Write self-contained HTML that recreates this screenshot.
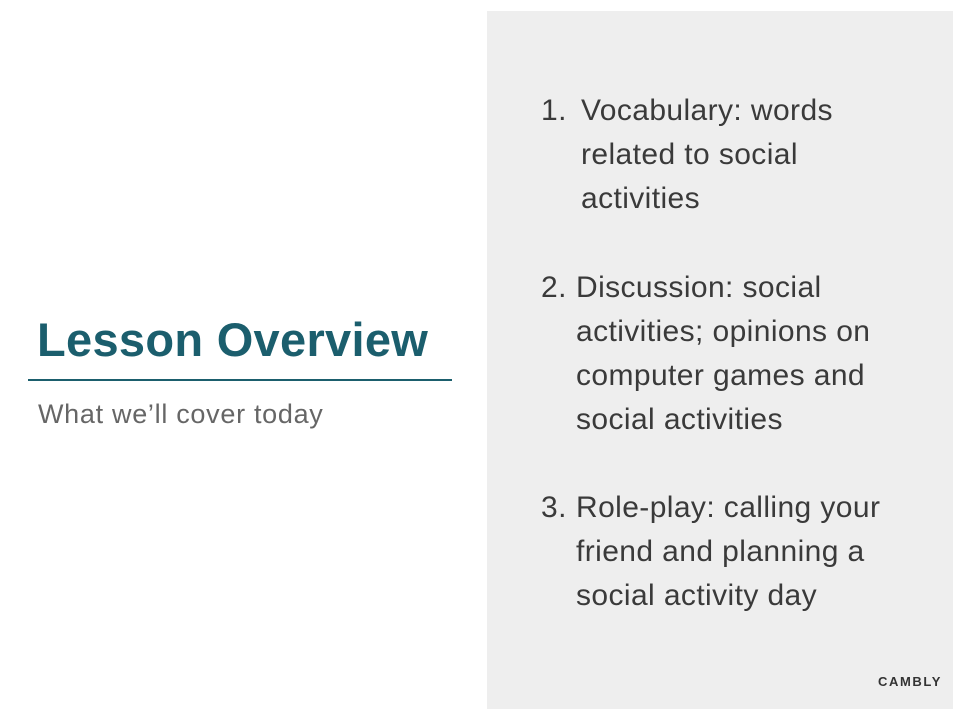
<!DOCTYPE html>
<html><head><meta charset="utf-8"><style>
body{margin:0;width:960px;height:720px;background:#fff;position:relative;overflow:hidden;font-family:"Liberation Sans",sans-serif}
.panel{position:absolute;left:487px;top:11px;width:466px;height:698px;background:#eeeeee}
.t{position:absolute;font-size:30px;line-height:44px;color:#3a3a3a;white-space:nowrap;letter-spacing:0.4px}
</style></head><body>
<div class="panel"></div>
<div style="position:absolute;left:37px;top:312px;font-size:47px;font-weight:bold;color:#1b5e6d;line-height:56px;letter-spacing:0.3px">Lesson Overview</div>
<div style="position:absolute;left:28px;top:379px;width:424px;height:2px;background:#1b5e6d"></div>
<div style="position:absolute;left:38px;top:397px;font-size:27px;color:#666;line-height:34px;letter-spacing:0.7px">What we’ll cover today</div>

<div>
<div class="t" style="left:541px;top:89px">1.</div>
<div class="t" style="left:581px;top:89px">Vocabulary: words</div>
<div class="t" style="left:581px;top:133px">related to social</div>
<div class="t" style="left:581px;top:177px">activities</div>
</div>
<div>
<div class="t" style="left:541px;top:266px">2.</div>
<div class="t" style="left:576px;top:266px">Discussion: social</div>
<div class="t" style="left:576px;top:310px">activities; opinions on</div>
<div class="t" style="left:576px;top:354px">computer games and</div>
<div class="t" style="left:576px;top:398px">social activities</div>
</div>
<div>
<div class="t" style="left:541px;top:486px">3.</div>
<div class="t" style="left:576px;top:486px">Role-play: calling your</div>
<div class="t" style="left:576px;top:530px">friend and planning a</div>
<div class="t" style="left:576px;top:574px">social activity day</div>
</div>
<div style="position:absolute;left:878px;top:674px;font-size:13px;font-weight:bold;letter-spacing:1.6px;color:#333">CAMBLY</div>
</body></html>
